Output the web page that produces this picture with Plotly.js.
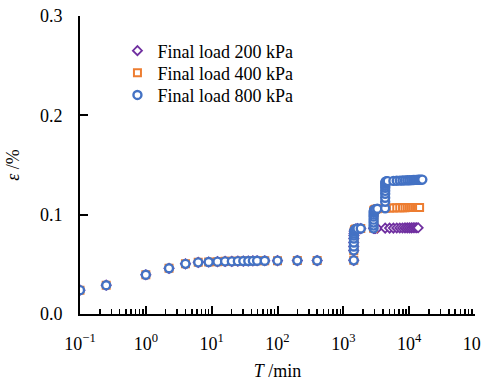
<!DOCTYPE html>
<html>
<head>
<meta charset="utf-8">
<script src="https://cdn.plot.ly/plotly-3.0.1.min.js"></script>
<style>html,body{margin:0;padding:0;background:#fff;}#chart{width:481px;height:381px;}</style>
</head>
<body>
<div id="chart"></div>
<script>
// Stage 1 (common to all tests)
var tStage1 = [0.1,0.25,1,2.25,4,6.25,9,12.25,16,20.25,25,30.25,36,42.25,49,64,100,200,400,1440];
var eStage1 = [0.024,0.029,0.0395,0.046,0.0505,0.052,0.0523,0.0527,0.053,0.053,0.0532,0.0533,0.0534,0.0535,0.0536,0.0536,0.0537,0.0538,0.0538,0.054];
// Stage 2 (common)
var tStage2 = [1440.1,1440.25,1441,1444,1449,1456,1465,1476,1489,1540,1640,1840,2880];
var eStage2 = [0.064,0.068,0.072,0.076,0.079,0.081,0.083,0.084,0.085,0.0855,0.086,0.086,0.0862];
// Stage 3 (400 and 800 kPa)
var tStage3 = [2880.1,2880.25,2881,2884,2889,2896,2905,2916,2929,2980,3080,3280,4320];
var eStage3 = [0.089,0.092,0.095,0.098,0.1,0.102,0.103,0.104,0.1045,0.105,0.1055,0.106,0.1065];
// Final hold, 200 kPa
var tHold200 = [2980,3080,3280,4320,5040,5760,6480,7200,7920,8640,9360,10080,10800,11520,12240,12960,13680];
var eHold200 = [0.0862,0.0862,0.0863,0.0864,0.0865,0.0865,0.0866,0.0866,0.0866,0.0867,0.0867,0.0867,0.0867,0.0868,0.0868,0.0868,0.0868];
// Final hold, 400 kPa
var tHold400 = [5040,5760,6480,7200,7920,8640,9360,10080,10800,11520,12240,12960,13680,14400];
var eHold400 = [0.1067,0.1068,0.1069,0.107,0.107,0.107,0.1071,0.1071,0.1071,0.1072,0.1072,0.1072,0.1072,0.1073];
// Stage 4 and hold, 800 kPa
var tStage4 = [4320.1,4320.25,4321,4324,4329,4336,4345,4356,4369,4420,4520,4720,5760,6480,7200,7920,8640,9360,10080,10800,11520,12240,12960,13680,14400,15120,15840];
var eStage4 = [0.113,0.117,0.121,0.124,0.127,0.129,0.131,0.132,0.133,0.1333,0.1336,0.1338,0.134,0.1342,0.1343,0.1344,0.1345,0.1346,0.1347,0.1348,0.1349,0.135,0.135,0.1351,0.1352,0.1352,0.1353];

var seriesNames = ['Final load 200 kPa','Final load 400 kPa','Final load 800 kPa'];
var xTickVals = [0.1,1,10,100,1000,10000,100000];
var xTickText = ['10<sup>\u22121</sup>','10<sup>0</sup>','10<sup>1</sup>','10<sup>2</sup>','10<sup>3</sup>','10<sup>4</sup>','10<sup>5</sup>'];
var yTickVals = [0,0.1,0.2,0.3];

// minor tick positions (2..9 within each decade)
var xMinor = [];
for (var d = -1; d < 5; d++) { for (var m = 2; m <= 9; m++) { xMinor.push(m * Math.pow(10, d)); } }

var t200 = tStage1.concat(tStage2, tHold200);
var e200 = eStage1.concat(eStage2, eHold200);
var t400 = tStage1.concat(tStage2, tStage3, tHold400);
var e400 = eStage1.concat(eStage2, eStage3, eHold400);
var t800 = tStage1.concat(tStage2, tStage3, tStage4);
var e800 = eStage1.concat(eStage2, eStage3, eStage4);

var FONT = 'Liberation Serif, Times New Roman, serif';
var traces = [
  // empty helper trace so the minor-tick axis (x2) is drawn
  {x:[], y:[], xaxis:'x2', yaxis:'y', type:'scatter', mode:'markers', showlegend:false, hoverinfo:'skip'},
  {x:t200, y:e200, name:seriesNames[0], type:'scatter', mode:'markers', legend:'legend',
   marker:{symbol:'diamond', size:7, color:'#ffffff', line:{width:1.8, color:'#7030A0'}}},
  {x:t400, y:e400, name:seriesNames[1], type:'scatter', mode:'markers', legend:'legend2',
   marker:{symbol:'square', size:7, color:'#ffffff', line:{width:2, color:'#ED7D31'}}},
  {x:t800, y:e800, name:seriesNames[2], type:'scatter', mode:'markers', legend:'legend3',
   marker:{symbol:'circle', size:8, color:'#ffffff', line:{width:2.4, color:'#4472C4'}}}
];
function legendAt(yv) {
  return {x:0.0948, y:yv, xanchor:'left', yanchor:'top', bgcolor:'rgba(0,0,0,0)',
          font:{family:FONT, size:18, color:'#000'}};
}
var axisMinor = {type:'log', range:[-1,5], overlaying:'x', anchor:'y', side:'bottom',
                 tickmode:'array', tickvals:xMinor, ticks:'inside', ticklen:5, tickwidth:1.5,
                 tickcolor:'#000', showticklabels:false, showline:false, showgrid:false, zeroline:false};
var layout = {
  width:481, height:381,
  margin:{l:80, r:5.5, t:15.7, b:67},
  paper_bgcolor:'#ffffff', plot_bgcolor:'#ffffff',
  font:{family:FONT, size:18, color:'#000'},
  showlegend:true,
  legend:legendAt(0.9447),
  legend2:legendAt(0.8710),
  legend3:legendAt(0.7962),
  xaxis:{type:'log', range:[-1,5], tickmode:'array', tickvals:xTickVals, ticktext:xTickText,
         showgrid:false, zeroline:false, showline:true, linecolor:'#000', linewidth:2,
         ticks:'inside', ticklen:8, tickwidth:2, tickcolor:'#000',
         ticklabelstandoff:12, ticklabeloverflow:'allow',
         tickfont:{family:FONT, size:18, color:'#000'},
         title:{text:'<i>T</i> /min', font:{family:FONT, size:18, color:'#000'}, standoff:12}},
  xaxis2:axisMinor,
  yaxis:{range:[0,0.3], tickmode:'array', tickvals:yTickVals, tickformat:'.1f',
         showgrid:false, zeroline:false, showline:true, linecolor:'#000', linewidth:2,
         ticks:'inside', ticklen:8, tickwidth:2, tickcolor:'#000', ticklabelstandoff:12,
         tickfont:{family:FONT, size:18, color:'#000'},
         title:{text:'<i>\u03b5</i> /%', font:{family:FONT, size:18, color:'#000'}, standoff:16}}
};
Plotly.newPlot('chart', traces, layout, {displayModeBar:false, staticPlot:true});
</script>
</body>
</html>
